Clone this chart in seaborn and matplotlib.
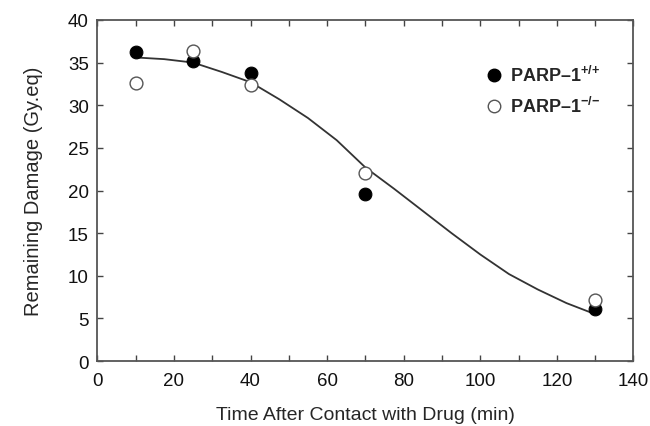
import numpy as np
import pandas as pd
import matplotlib
matplotlib.use('Agg')
import matplotlib.pyplot as plt
from matplotlib.ticker import MultipleLocator
from matplotlib.lines import Line2D
import seaborn as sns

# --- data ---
time_min = [10, 25, 40, 70, 130]
damage_wt = [36.2, 35.2, 33.8, 19.6, 6.1]    # PARP-1 +/+
damage_ko = [32.6, 36.4, 32.4, 22.05, 7.2]   # PARP-1 -/-

# fitted curve
fit_time = [10, 17.5, 25, 32.5, 40, 47.5, 55, 62.5, 70, 77.5, 85, 92.5, 100, 107.5, 115, 122.5, 130]
fit_damage = [35.6, 35.4, 35.0, 33.9, 32.7, 30.7, 28.5, 25.9, 22.7, 20.2, 17.6, 15.0, 12.5, 10.2, 8.4, 6.8, 5.5]

pts = pd.DataFrame({
    'Time': time_min * 2,
    'Damage': damage_wt + damage_ko,
    'Group': ['wt'] * len(time_min) + ['ko'] * len(time_min),
})
fit = pd.DataFrame({'Time': fit_time, 'Damage': fit_damage})

sns.set_theme(style='ticks')
plt.rcParams['font.family'] = ['Liberation Sans', 'DejaVu Sans']
plt.rcParams['mathtext.fontset'] = 'custom'
plt.rcParams['mathtext.bf'] = 'Liberation Sans:bold'
plt.rcParams['mathtext.rm'] = 'Liberation Sans'

fig = plt.figure(figsize=(6.5, 4.27), dpi=100)
ax = fig.add_axes([0.1497, 0.152, 0.8249, 0.799])

sns.lineplot(data=fit, x='Time', y='Damage', ax=ax, color='#333333', linewidth=1.3)

wt = pts[pts['Group'] == 'wt']
ko = pts[pts['Group'] == 'ko']
sns.scatterplot(data=wt, x='Time', y='Damage', ax=ax, color='black',
                edgecolor='black', s=85, zorder=3)
sns.scatterplot(data=ko, x='Time', y='Damage', ax=ax, color='white',
                edgecolor='#555555', linewidth=1.0, s=85, zorder=3)

ax.set_xlim(0, 140)
ax.set_ylim(0, 40)
ax.xaxis.set_major_locator(MultipleLocator(20))
ax.xaxis.set_minor_locator(MultipleLocator(10))
ax.yaxis.set_major_locator(MultipleLocator(5))
ax.tick_params(which='both', direction='in', top=True, right=True,
               color='#444444', width=1.0, labelsize=13.5, labelcolor='#111111')
ax.tick_params(which='major', length=4)
ax.tick_params(axis='x', which='major', pad=8)
ax.tick_params(axis='y', which='major', pad=6)
ax.tick_params(which='minor', length=4)
for sp in ax.spines.values():
    sp.set_color('#555555')
    sp.set_linewidth(1.3)

ax.set_xlabel('Time After Contact with Drug (min)', fontsize=14, labelpad=12)
ax.set_ylabel('Remaining Damage (Gy.eq)', fontsize=14.5, labelpad=18)

handles = [
    Line2D([], [], marker='o', linestyle='none', markersize=9,
           markerfacecolor='black', markeredgecolor='black'),
    Line2D([], [], marker='o', linestyle='none', markersize=9,
           markerfacecolor='white', markeredgecolor='#555555'),
]
labels = [r'PARP–1$^{\mathbf{{+}/{+}}}$', r'PARP–1$^{\mathbf{{-}/{-}}}$']
leg = ax.legend(handles, labels, loc='upper left', bbox_to_anchor=(0.69, 0.915),
                frameon=False, handletextpad=0.25, labelspacing=0.6,
                handlelength=1.2, prop={'weight': 'bold', 'size': 13})

fig.savefig('out.png', dpi=100)
